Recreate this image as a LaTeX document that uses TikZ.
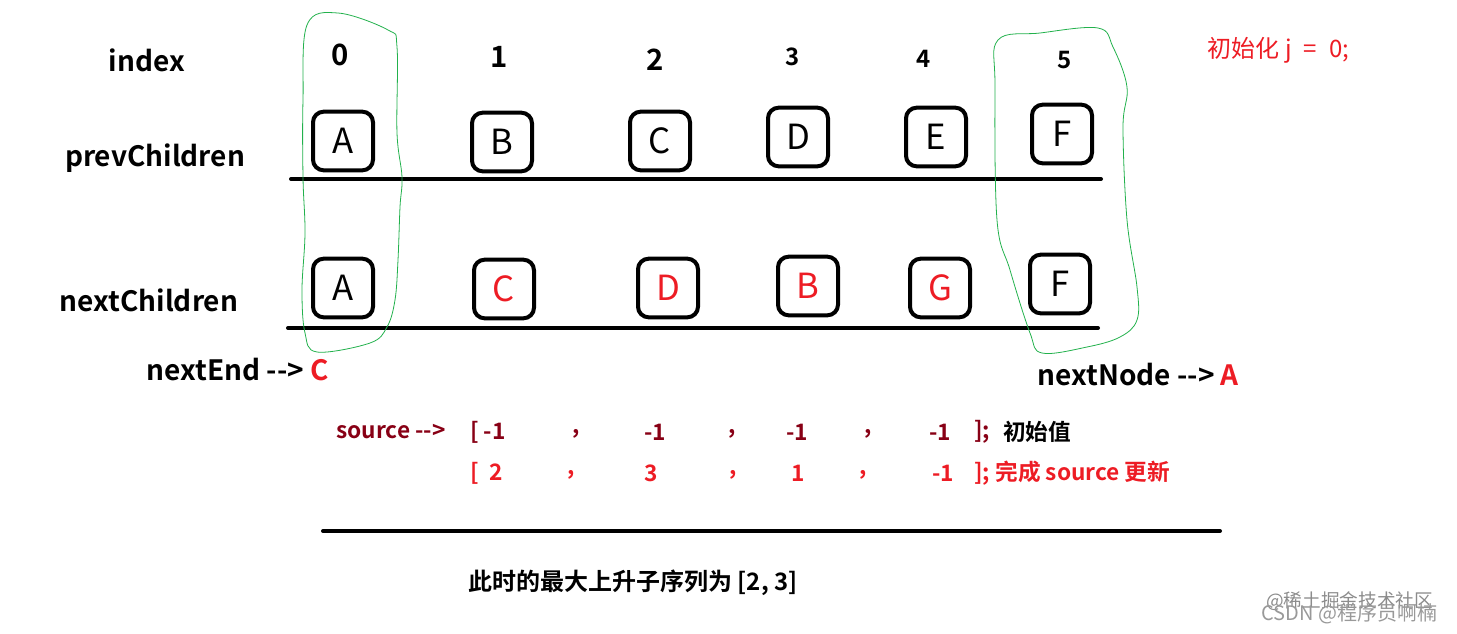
\documentclass[tikz,border=0pt]{standalone}
\usepackage{fontspec}
\setmainfont{Noto Sans CJK SC}[BoldFont={Noto Sans CJK SC Bold}]
\usepackage{tikz}
\definecolor{paintred}{RGB}{237,28,36}
\definecolor{paintdark}{RGB}{136,0,21}
\definecolor{paintgreen}{RGB}{34,177,76}
\newcommand{\ptr}{{-}{-}>}

\begin{document}
\begin{tikzpicture}[x=0.75pt,y=-0.75pt,
    elem/.style={draw,line width=3pt,rounded corners=8pt,minimum width=45pt,minimum height=44pt,inner sep=0pt,font=\fontsize{26}{28}\selectfont},
    rowlabel/.style={font=\bfseries\fontsize{21}{26}\selectfont},
    idxnum/.style={font=\bfseries\fontsize{22}{26}\selectfont},
    srcitem/.style={font=\bfseries\fontsize{17}{20}\selectfont,inner sep=0pt},
    rule/.style={line width=3pt,line cap=round},
    loop/.style={paintgreen,line width=0.6pt}]
        \useasboundingbox (0,0) rectangle (1457,633);
        % index row
        \node[rowlabel] (index) at (147,60) {index};
        \node[idxnum] (idx0) at (340,55) {0};
        \node[idxnum] (idx1) at (499,57) {1};
        \node[idxnum] (idx2) at (655,60) {2};
        \node[idxnum,font=\bfseries\fontsize{18}{20}\selectfont] (idx3) at (793,57) {3};
        \node[idxnum,font=\bfseries\fontsize{18}{20}\selectfont] (idx4) at (924,59) {4};
        \node[idxnum,font=\bfseries\fontsize{18}{20}\selectfont] (idx5) at (1065,60) {5};
        \node[font=\fontsize{18}{22}\selectfont,text=paintred,anchor=west] (initj) at (1203,50) {初始化 j\enspace=\enspace0;};
        % prevChildren
        \node[rowlabel] (prevlabel) at (155,158) {prevChildren};
        \node[elem] (prevA) at (343,141) {A};
        \node[elem] (prevB) at (502,142) {B};
        \node[elem] (prevC) at (660,141) {C};
        \node[elem] (prevD) at (798,137) {D};
        \node[elem] (prevE) at (936,137) {E};
        \node[elem] (prevF) at (1062,134) {F};
        \coordinate (prevL) at (291,179);
        \coordinate (prevR) at (1101,179);
        \draw[rule] (prevL) -- (prevR);
        % nextChildren
        \node[rowlabel] (nextlabel) at (149,300) {nextChildren};
        \node[elem] (nextA) at (343,288) {A};
        \node[elem,text=paintred] (nextC) at (504,289) {C};
        \node[elem,text=paintred] (nextD) at (668,288) {D};
        \node[elem,text=paintred] (nextB) at (808,286) {B};
        \node[elem,text=paintred] (nextG) at (940,288) {G};
        \node[elem] (nextF) at (1060,284) {F};
        \coordinate (nextL) at (288,328);
        \coordinate (nextR) at (1098,328);
        \draw[rule] (nextL) -- (nextR);
        % green marks
        \draw[loop] plot[smooth cycle,tension=0.6] coordinates {(307,25) (338,13) (388,30) (397,47) (397,133) (402,177) (400,207) (398,260) (395,300) (387,327) (370,343) (317,352) (305,333) (302,290) (305,233) (303,177) (303,100)};
        \draw[loop] plot[smooth cycle,tension=0.6] coordinates {(998,40) (1040,33) (1098,28) (1113,47) (1127,87) (1123,127) (1127,220) (1137,287) (1137,320) (1120,337) (1087,347) (1042,353) (1030,333) (1010,270) (997,220) (995,87)};
        % pointers
        \node[rowlabel,anchor=west] (nextend) at (142,370) {nextEnd \ptr{} \textcolor{paintred}{C}};
        \node[rowlabel,anchor=west] (nextnode) at (1033,375) {nextNode \ptr{} \textcolor{paintred}{A}};
        % source array
        \node[srcitem,text=paintdark,anchor=west] (srclabel) at (336,432) {source \ptr};
        \node[srcitem,text=paintdark,anchor=west] (srcopen) at (470,432) {[ -1};
        \node[srcitem,text=paintdark] (srcc1) at (576,434) {,};
        \node[srcitem,text=paintdark] (srcv1) at (655,432) {-1};
        \node[srcitem,text=paintdark] (srcc2) at (732,434) {,};
        \node[srcitem,text=paintdark] (srcv2) at (797,432) {-1};
        \node[srcitem,text=paintdark] (srcc3) at (868,434) {,};
        \node[srcitem,text=paintdark] (srcv3) at (940,432) {-1};
        \node[srcitem,text=paintdark,anchor=west] (srcclose) at (974,432) {];};
        \node[srcitem,anchor=west] (srcinit) at (1003,432) {初始值};
        \node[srcitem,text=paintred,anchor=west] (newopen) at (470,473) {[\ \ 2};
        \node[srcitem,text=paintred] (newc1) at (571,475) {,};
        \node[srcitem,text=paintred] (newv1) at (651,473) {3};
        \node[srcitem,text=paintred] (newc2) at (733,475) {,};
        \node[srcitem,text=paintred] (newv2) at (798,473) {1};
        \node[srcitem,text=paintred] (newc3) at (863,475) {,};
        \node[srcitem,text=paintred] (newv3) at (943,473) {-1};
        \node[srcitem,text=paintred,anchor=west] (newclose) at (974,473) {]; 完成 source 更新};
        % result
        \coordinate (resL) at (323,531);
        \coordinate (resR) at (1220,531);
        \draw[rule] (resL) -- (resR);
        \node[srcitem,font=\bfseries\fontsize{18}{22}\selectfont] (result) at (633,583) {此时的最大上升子序列为 [2, 3]};
        % watermark
        \node[text=black!45,font=\fontsize{14}{16}\selectfont,anchor=east] (wm1) at (1438,601) {@稀土掘金技术社区};
        \node[text=black!40,font=\fontsize{15}{17}\selectfont,anchor=east] (wm2) at (1442,614) {CSDN @程序员啊楠};
\end{tikzpicture}
\end{document}
